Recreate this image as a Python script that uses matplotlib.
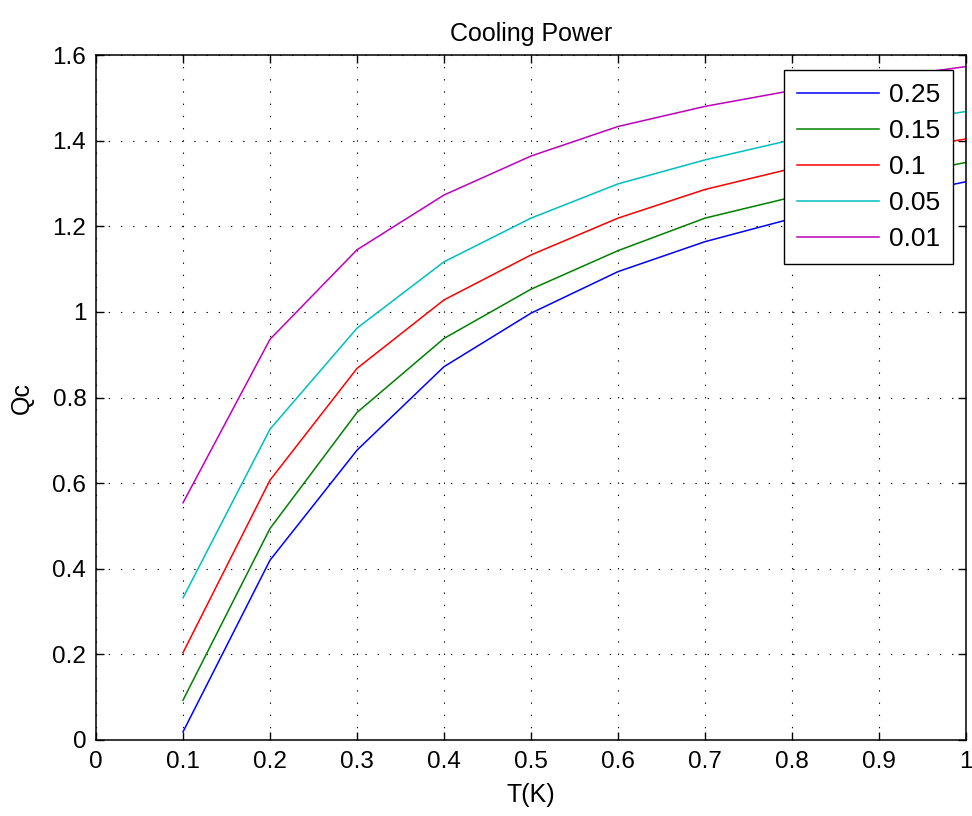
import matplotlib
matplotlib.use("Agg")
import matplotlib.pyplot as plt

T = [0.1, 0.2, 0.3, 0.4, 0.5, 0.6, 0.7, 0.8, 0.9, 1.0]
labels = ["0.25", "0.15", "0.1", "0.05", "0.01"]
q_025 = [0.019, 0.420, 0.677, 0.872, 0.997, 1.094, 1.164, 1.218, 1.262, 1.304]
q_015 = [0.093, 0.494, 0.765, 0.938, 1.053, 1.143, 1.219, 1.268, 1.310, 1.349]
q_010 = [0.204, 0.607, 0.868, 1.028, 1.133, 1.219, 1.286, 1.335, 1.370, 1.404]
q_005 = [0.332, 0.726, 0.962, 1.117, 1.219, 1.299, 1.355, 1.402, 1.437, 1.468]
q_001 = [0.554, 0.936, 1.145, 1.273, 1.364, 1.433, 1.480, 1.517, 1.545, 1.573]
series = [q_025, q_015, q_010, q_005, q_001]
colors = ["#0000ff", "#008000", "#ff0000", "#00bfbf", "#bf00bf"]

plt.rcParams['font.family'] = ['Liberation Sans', 'DejaVu Sans']
FS = 17.5
fig = plt.figure(figsize=(9.72, 8.16), dpi=100)
ax = fig.add_axes([96/972, 1-740/816, 870/972, 685/816])
for s, c, l in zip(series, colors, labels):
    ax.plot(T, s, color=c, lw=1.1, label=l)

ax.set_xlim(0, 1)
ax.set_ylim(0, 1.6)
ax.set_xticks([0, 0.1, 0.2, 0.3, 0.4, 0.5, 0.6, 0.7, 0.8, 0.9, 1.0])
ax.set_xticklabels(["0", "0.1", "0.2", "0.3", "0.4", "0.5", "0.6", "0.7", "0.8", "0.9", "1"])
ax.set_yticks([0, 0.2, 0.4, 0.6, 0.8, 1.0, 1.2, 1.4, 1.6])
ax.set_yticklabels(["0", "0.2", "0.4", "0.6", "0.8", "1", "1.2", "1.4", "1.6"])
ax.tick_params(direction='in', top=True, right=True, labelsize=FS, length=6, width=1)
ax.tick_params(axis='y', pad=7)
ax.tick_params(axis='x', pad=8)
ax.grid(True, color='black', linestyle=(0, (1.2, 9.8)), linewidth=0.8)
for sp in ax.spines.values():
    sp.set_linewidth(1.1)
ax.set_title("Cooling Power", fontsize=18, pad=10)
ax.set_xlabel("T(K)", fontsize=18, labelpad=7)
ax.set_ylabel("Qc", fontsize=18, labelpad=13)
leg = ax.legend(loc='upper right', bbox_to_anchor=(0.985, 0.978), borderaxespad=0,
                fontsize=19, fancybox=False, framealpha=1, edgecolor='black',
                handlelength=3.1, handletextpad=0.35, labelspacing=0.45,
                borderpad=0.5)
leg.get_frame().set_linewidth(1.0)
fig.savefig("out.png", dpi=100, facecolor='white')
